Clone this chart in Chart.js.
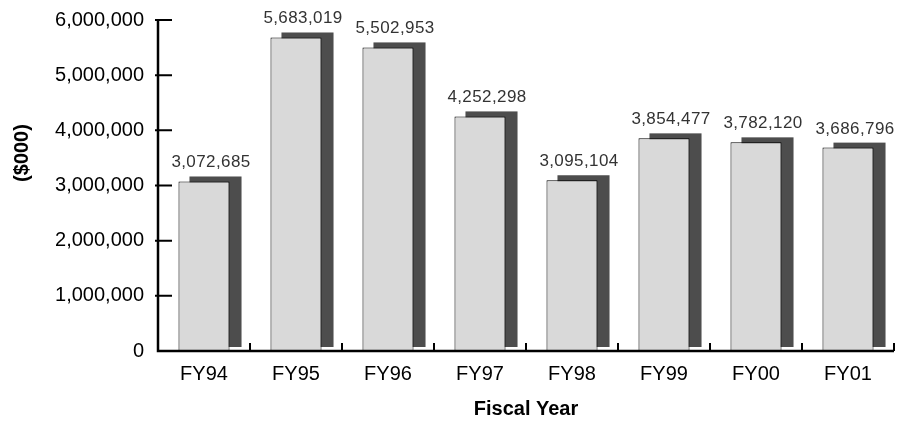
<!doctype html>
<html>
<head>
<script src="https://cdn.jsdelivr.net/npm/chart.js@4/dist/chart.umd.min.js"></script>
<style>
  body { margin: 0; background: #fff; }
  #wrap { width: 898px; height: 421px; }
</style>
<script>
  // values, $000
  const years = ['FY94', 'FY95', 'FY96', 'FY97', 'FY98', 'FY99', 'FY00', 'FY01'];
  const amounts = [3072685, 5683019, 5502953, 4252298, 3095104, 3854477, 3782120, 3686796];
  const yTicks = [0, 1000000, 2000000, 3000000, 4000000, 5000000, 6000000];

  const fontName = '"Liberation Sans", Arial, sans-serif';

  // dark block behind each bar, shifted right and up
  const shadowBars = {
    id: 'shadowBars',
    beforeDatasetsDraw(chart) {
      const ctx = chart.ctx;
      const meta = chart.getDatasetMeta(0);
      ctx.save();
      ctx.fillStyle = '#4d4d4d';
      meta.data.forEach(function (bar) {
        const p = bar.getProps(['x', 'y', 'base', 'width'], true);
        ctx.fillRect(p.x - p.width / 2 + 11, p.y - 5, p.width + 1, (p.base - 4) - (p.y - 5));
      });
      ctx.restore();
    },
    afterDatasetsDraw(chart) {
      const ctx = chart.ctx;
      const meta = chart.getDatasetMeta(0);
      ctx.save();
      ctx.fillStyle = '#333';
      ctx.font = '17px ' + fontName;
      ctx.letterSpacing = '0.4px';
      ctx.textAlign = 'center';
      ctx.textBaseline = 'alphabetic';
      meta.data.forEach(function (bar, i) {
        const p = bar.getProps(['x', 'y'], true);
        ctx.fillText(amounts[i].toLocaleString('en-US'), p.x + 7, p.y - 14);
      });
      ctx.restore();
    }
  };

  // axis lines with tick marks crossing the y axis and standing up on the x axis
  const axisLines = {
    id: 'axisLines',
    afterDraw(chart) {
      const ctx = chart.ctx;
      const a = chart.chartArea;
      const ys = chart.scales.y;
      const xs = chart.scales.x;
      ctx.save();
      ctx.strokeStyle = '#000';
      ctx.lineWidth = 2.5;
      ctx.beginPath();
      ctx.moveTo(a.left, a.top);
      ctx.lineTo(a.left, a.bottom);
      ctx.lineTo(a.right, a.bottom);
      ctx.stroke();
      ctx.lineWidth = 2;
      ctx.beginPath();
      yTicks.forEach(function (v) {
        const py = ys.getPixelForValue(v);
        if (v === 0) return;
        ctx.moveTo(a.left - 3, py);
        ctx.lineTo(a.left + 14, py);
      });
      const step = xs.width / years.length;
      for (let i = 0; i < years.length; i++) {
        const px = xs.getPixelForValue(i) + step / 2;
        ctx.moveTo(px, a.bottom);
        ctx.lineTo(px, a.bottom - 8);
      }
      ctx.stroke();
      // y title
      ctx.fillStyle = '#000';
      ctx.font = 'bold 20px ' + fontName;
      ctx.textAlign = 'center';
      ctx.textBaseline = 'middle';
      ctx.translate(22, 153);
      ctx.rotate(-Math.PI / 2);
      ctx.fillText('($000)', 0, 0);
      ctx.restore();
    }
  };

  let chart1;
  function startPage() {
    chart1 = new Chart(document.getElementById('c1'), {
      type: 'bar',
      data: {
        labels: years,
        datasets: [{
          label: 'Amount',
          data: amounts,
          backgroundColor: '#d9d9d9',
          borderColor: '#000',
          borderWidth: 1,
          barPercentage: 0.555,
          categoryPercentage: 1
        }]
      },
      options: {
        responsive: true,
        maintainAspectRatio: false,
        animation: false,
        layout: { padding: { top: 20, right: 4, left: 0, bottom: 0 } },
        plugins: { legend: { display: false }, tooltip: { enabled: false } },
        scales: {
          y: {
            min: 0,
            max: 6000000,
            afterBuildTicks(scale) { scale.ticks = yTicks.map(function (v) { return { value: v }; }); },
            afterFit(scale) {
              scale.width = 158;
              scale.paddingTop = 0;
              scale.paddingBottom = 0;
            },
            grid: { display: false, drawTicks: false },
            border: { display: false },
            ticks: {
              padding: 14,
              color: '#000',
              font: { family: fontName, size: 20 },
              callback: function (v) { return Number(v).toLocaleString('en-US'); }
            }
          },
          x: {
            afterFit(scale) { scale.height = 70; },
            grid: { display: false, drawTicks: false },
            border: { display: false },
            ticks: {
              padding: 11,
              color: '#000',
              font: { family: fontName, size: 20 }
            },
            title: {
              display: true,
              text: 'Fiscal Year',
              color: '#000',
              font: { family: fontName, size: 20, weight: 'bold' },
              padding: { top: 8, bottom: 0 }
            }
          }
        }
      },
      plugins: [shadowBars, axisLines]
    });
  }
</script>
</head>
<body onload="startPage()">
  <div id="wrap"><canvas id="c1"></canvas></div>
</body>
</html>
